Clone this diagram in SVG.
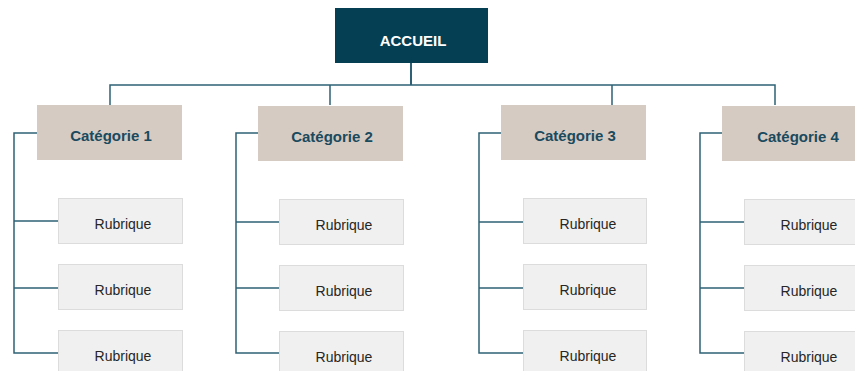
<svg xmlns="http://www.w3.org/2000/svg" width="855" height="371" viewBox="0 0 855 371">
<style>
.cat rect{fill:#D5CBC3;}
.cat text{font-family:"Liberation Sans",Arial,sans-serif;font-weight:bold;font-size:15px;fill:#1A4A5E;text-anchor:middle;}
.rub rect{fill:#F0F0F0;stroke:#DCDCDC;stroke-width:1;}
.rub text{font-family:"Liberation Sans",Arial,sans-serif;font-size:14px;fill:#262626;text-anchor:middle;}
.home rect{fill:#053F54;}
.home text{font-family:"Liberation Sans",Arial,sans-serif;font-weight:bold;font-size:15px;fill:#FFFFFF;text-anchor:middle;}
.conn path{fill:none;stroke:#2E6176;stroke-width:1.5;}
</style>
<rect width="855" height="371" fill="#FFFFFF"/>
<g class="conn" id="connectors">
<path d="M411 63 V85" style="stroke-width:2"/>
<path d="M110 105 V85 H775 V105"/>
<path d="M330 85 V105"/>
<path d="M612 85 V105"/>
<path d="M37 133 H14 V353 H58 M14 221 H58 M14 288 H58"/>
<path d="M258 133 H236 V353 H279 M236 222 H279 M236 288 H279"/>
<path d="M501 133 H479 V353 H523 M479 222 H523 M479 288 H523"/>
<path d="M722 133 H700 V353 H744 M700 222 H744 M700 288 H744"/>
</g>
<g class="home" id="accueil"><rect x="335" y="8" width="153" height="55"/><text x="413" y="46">ACCUEIL</text></g>
<g class="cat" id="cat1"><rect x="37" y="105" width="145" height="55"/><text x="111" y="141">Catégorie 1</text></g>
<g class="cat" id="cat2"><rect x="258" y="106" width="145" height="55"/><text x="332" y="142">Catégorie 2</text></g>
<g class="cat" id="cat3"><rect x="501" y="105" width="145" height="55"/><text x="575" y="141">Catégorie 3</text></g>
<g class="cat" id="cat4"><rect x="722" y="106" width="145" height="55"/><text x="798" y="142">Catégorie 4</text></g>
<g class="rub" id="r1a"><rect x="58.5" y="198.5" width="124" height="45"/><text x="123" y="229">Rubrique</text></g>
<g class="rub" id="r1b"><rect x="58.5" y="264.5" width="124" height="45"/><text x="123" y="295">Rubrique</text></g>
<g class="rub" id="r1c"><rect x="58.5" y="330.5" width="124" height="45"/><text x="123" y="361">Rubrique</text></g>
<g class="rub" id="r2a"><rect x="279.5" y="199.5" width="124" height="45"/><text x="344" y="230">Rubrique</text></g>
<g class="rub" id="r2b"><rect x="279.5" y="265.5" width="124" height="45"/><text x="344" y="296">Rubrique</text></g>
<g class="rub" id="r2c"><rect x="279.5" y="331.5" width="124" height="45"/><text x="344" y="362">Rubrique</text></g>
<g class="rub" id="r3a"><rect x="523.5" y="198.5" width="123" height="45"/><text x="588" y="229">Rubrique</text></g>
<g class="rub" id="r3b"><rect x="523.5" y="264.5" width="123" height="45"/><text x="588" y="295">Rubrique</text></g>
<g class="rub" id="r3c"><rect x="523.5" y="330.5" width="123" height="45"/><text x="588" y="361">Rubrique</text></g>
<g class="rub" id="r4a"><rect x="744.5" y="199.5" width="124" height="45"/><text x="809" y="230">Rubrique</text></g>
<g class="rub" id="r4b"><rect x="744.5" y="265.5" width="124" height="45"/><text x="809" y="296">Rubrique</text></g>
<g class="rub" id="r4c"><rect x="744.5" y="331.5" width="124" height="45"/><text x="809" y="362">Rubrique</text></g>
</svg>
